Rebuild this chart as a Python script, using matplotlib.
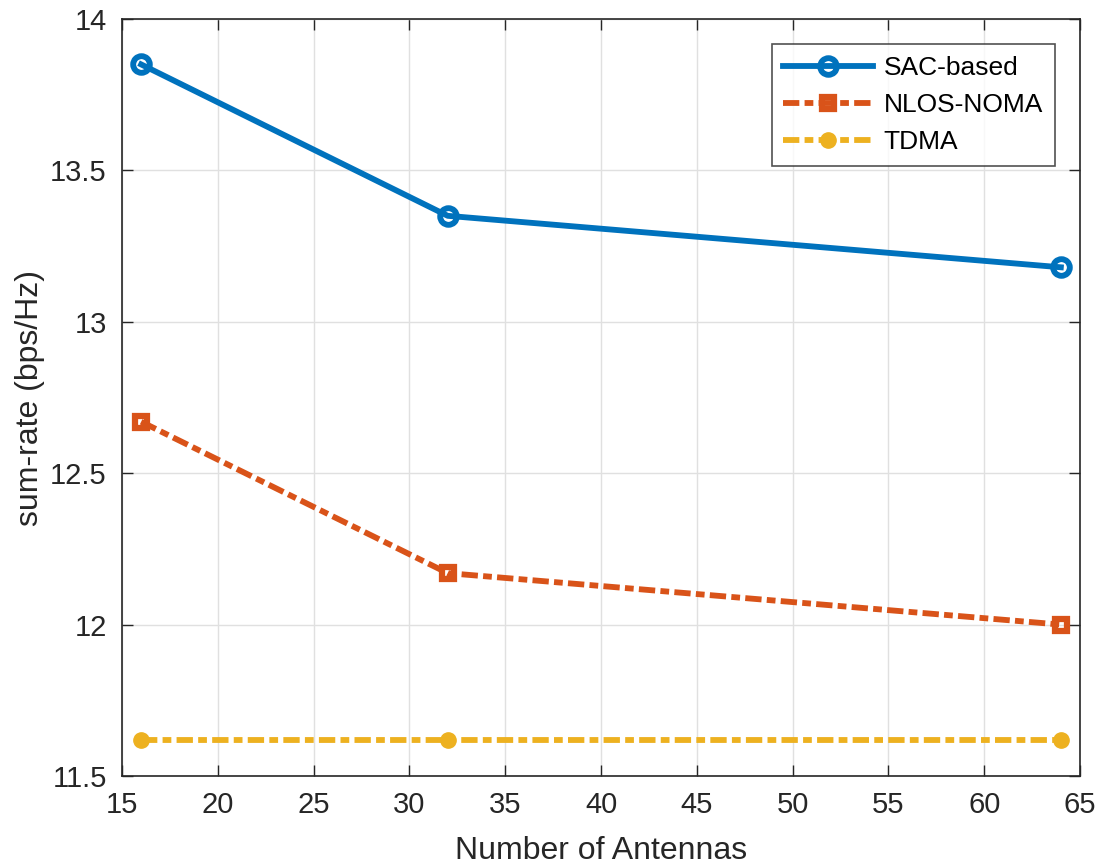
import matplotlib
matplotlib.use('Agg')
import matplotlib.pyplot as plt

plt.rcParams['font.family'] = ['Liberation Sans', 'DejaVu Sans']

antennas = [16, 32, 64]
sac_based = [13.85, 13.35, 13.18]
nlos_noma = [12.67, 12.17, 12.00]
tdma = [11.62, 11.62, 11.62]

fig = plt.figure(figsize=(10.97, 8.65), dpi=100)
ax = fig.add_axes([122/1097, 1-776/865, (1080-122)/1097, (776-19)/865])

dashdot = (0, (2.8, 0.9, 1.5, 0.9))
ax.plot(antennas, sac_based, '-', color='#0072BD', lw=4.2, marker='o', ms=12,
        mfc='none', mew=4.2, label='SAC-based')
ax.plot(antennas, nlos_noma, linestyle=dashdot, color='#D95319', lw=4.2, marker='s', ms=9,
        mfc='none', mew=4.5, label='NLOS-NOMA')
ax.plot(antennas, tdma, linestyle=dashdot, color='#EDB120', lw=4.2, marker='o', ms=11,
        mfc='#EDB120', mew=1, label='TDMA')

ax.set_xlim(15, 65)
ax.set_ylim(11.5, 14)
ax.set_xticks(range(15, 66, 5))
ax.set_yticks([11.5, 12, 12.5, 13, 13.5, 14])
ax.set_yticklabels(['11.5', '12', '12.5', '13', '13.5', '14'])
ax.grid(True, color='#e0e0e0', lw=1)
ax.set_axisbelow(True)
ax.tick_params(direction='in', top=True, right=True, labelsize=21, colors='#262626',
               length=8, width=1, pad=11)
for s in ax.spines.values():
    s.set_color('#262626')
    s.set_linewidth(1.2)
ax.set_xlabel('Number of Antennas', fontsize=23, color='#262626', labelpad=12)
ax.set_ylabel('sum-rate (bps/Hz)', fontsize=23, color='#262626', labelpad=4)

leg = ax.legend(loc='upper right', fontsize=19, fancybox=False, edgecolor='#262626',
                handlelength=3.4, borderaxespad=0.95, labelspacing=0.5,
                handletextpad=0.4, borderpad=0.45)
leg.get_frame().set_linewidth(1.2)

fig.savefig('out.png', dpi=100)
